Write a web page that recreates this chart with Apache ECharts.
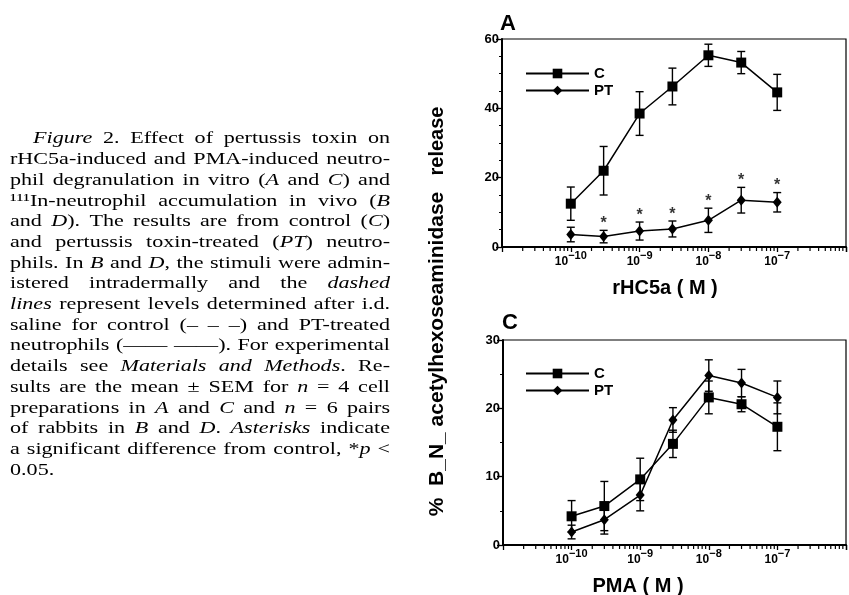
<!DOCTYPE html>
<html><head><meta charset="utf-8">
<script src="https://cdn.jsdelivr.net/npm/echarts@6/dist/echarts.min.js"></script>
<style>html,body{margin:0;padding:0;background:#fff}#c{width:849px;height:595px}</style>
</head><body><div id="c"></div>
<script>
// ---------- data ----------
const concentrations = [1e-10, 3e-10, 1e-9, 3e-9, 1e-8, 3e-8, 1e-7];
const xTickLabels = [1e-10, 1e-9, 1e-8, 1e-7];
const rhc5aControl    = [12.5, 22.0, 38.5, 46.3, 55.3, 53.2, 44.6];
const rhc5aControlSem = [4.8, 7.0, 6.3, 5.3, 3.2, 3.2, 5.2];
const rhc5aPT         = [3.6, 3.0, 4.6, 5.2, 7.7, 13.5, 12.9];
const rhc5aPTSem      = [2.1, 1.8, 2.6, 2.3, 3.5, 3.7, 2.8];
const rhc5aSignificant = [false, true, true, true, true, true, true];
const pmaControl    = [4.2, 5.7, 9.6, 14.8, 21.6, 20.6, 17.3];
const pmaControlSem = [2.3, 3.6, 3.1, 2.0, 2.4, 1.1, 3.5];
const pmaPT         = [1.9, 3.7, 7.3, 18.3, 24.8, 23.7, 21.6];
const pmaPTSem      = [1.0, 2.1, 2.3, 1.8, 2.3, 2.0, 2.4];
const seriesNames = ['C', 'PT'];
const panelLetters = ['A', 'C'];
const xAxisNames = ['rHC5a ( M )', 'PMA ( M )'];
const yAxisName = ['%  B_N_ acetylhexoseaminidase', 'release'];
const captionLines = [
  "_Figure_ 2. Effect of pertussis toxin on",
  "rHC5a-induced and PMA-induced neutro-",
  "phil degranulation in vitro (_A_ and _C_) and",
  "¹¹¹In-neutrophil accumulation in vivo (_B_",
  "and _D_). The results are from control (_C_)",
  "and pertussis toxin-treated (_PT_) neutro-",
  "phils. In _B_ and _D_, the stimuli were admin-",
  "istered intradermally and the _dashed_",
  "_lines_ represent levels determined after i.d.",
  "saline for control (– – –) and PT-treated",
  "neutrophils (—— ——). For experimental",
  "details see _Materials_ _and_ _Methods_. Re-",
  "sults are the mean ± SEM for _n_ = 4 cell",
  "preparations in _A_ and _C_ and _n_ = 6 pairs",
  "of rabbits in _B_ and _D_. _Asterisks_ indicate",
  "a significant difference from control, *_p_ <",
  "0.05."
];

// ---------- style ----------
const SANS = '"Liberation Sans", Arial, Helvetica, sans-serif';
const SERIF = '"Liberation Serif", "Times New Roman", serif';
const chart = echarts.init(document.getElementById('c'), null, {renderer: 'canvas', width: 849, height: 595});

const grids = [
  {left: 502, top: 39, width: 351, height: 208},
  {left: 503, top: 340, width: 351, height: 205}
];

const minorTickValues = [];
for (let d = -11; d <= -7; d++) for (let k = 2; k <= 9; k++) minorTickValues.push(k * Math.pow(10, d));

function xAxisCfg(gi) {
  return {
    type: 'log', logBase: 10, gridIndex: gi, min: 1e-11, max: 1e-6,
    axisLine: {show: true, onZero: false, lineStyle: {color: '#000', width: 2}},
    axisTick: {show: true, length: 5, lineStyle: {color: '#000', width: 1.3}},
    splitLine: {show: false},
    axisLabel: {
      margin: 3, showMinLabel: true, showMaxLabel: true,
      formatter: v => {
        const e = Math.round(Math.log10(v));
        const ok = xTickLabels.some(t => Math.round(Math.log10(t)) === e);
        return ok ? '{b|10}{s|−' + (-e) + '}' : '';
      },
      rich: {
        b: {fontSize: 12, fontWeight: 'bold', fontFamily: SANS, color: '#000', lineHeight: 18, verticalAlign: 'bottom'},
        s: {fontSize: 11, fontWeight: 'bold', fontFamily: SANS, color: '#000', lineHeight: 18, verticalAlign: 'top'}
      }
    }
  };
}
function yAxisCfg(gi, max, interval, minorSplit) {
  return {
    type: 'value', gridIndex: gi, min: 0, max: max, interval: interval,
    axisLine: {show: true, onZero: false, lineStyle: {color: '#000', width: 2}},
    axisTick: {show: true, length: 6, lineStyle: {color: '#000', width: 1.3}},
    minorTick: {show: true, splitNumber: minorSplit, length: 3, lineStyle: {color: '#000', width: 1}},
    splitLine: {show: false}, minorSplitLine: {show: false},
    axisLabel: {margin: 3, color: '#000', fontSize: 13, fontWeight: 'bold', fontFamily: SANS}
  };
}
function lineSeries(name, gi, means, symbol, size) {
  return {
    name, type: 'line', xAxisIndex: gi, yAxisIndex: gi,
    data: concentrations.map((x, i) => [x, means[i]]),
    symbol, symbolSize: size, showAllSymbol: true,
    itemStyle: {color: '#000'}, lineStyle: {color: '#000', width: 1.5}, z: 4, silent: true
  };
}
function errorSeries(gi, means, sems) {
  return {
    type: 'custom', xAxisIndex: gi, yAxisIndex: gi, silent: true, z: 3,
    data: concentrations.map((x, i) => [x, means[i] - sems[i], means[i] + sems[i]]),
    encode: {x: 0, y: [1, 2]},
    renderItem: (params, api) => {
      const lo = api.coord([api.value(0), api.value(1)]);
      const hi = api.coord([api.value(0), api.value(2)]);
      const w = 4, st = {stroke: '#000', lineWidth: 1.4};
      return {type: 'group', children: [
        {type: 'line', shape: {x1: lo[0], y1: lo[1], x2: hi[0], y2: hi[1]}, style: st},
        {type: 'line', shape: {x1: lo[0] - w, y1: lo[1], x2: lo[0] + w, y2: lo[1]}, style: st},
        {type: 'line', shape: {x1: hi[0] - w, y1: hi[1], x2: hi[0] + w, y2: hi[1]}, style: st}
      ]};
    }
  };
}
function minorTickSeries(gi) {
  return {
    type: 'custom', xAxisIndex: gi, yAxisIndex: gi, silent: true, z: 5,
    data: minorTickValues.map(v => [v, 0]), encode: {x: 0, y: 1},
    renderItem: (params, api) => {
      const p = api.coord([api.value(0), 0]);
      return {type: 'line', shape: {x1: p[0], y1: p[1], x2: p[0], y2: p[1] + 4}, style: {stroke: '#000', lineWidth: 1.2}};
    }
  };
}
const starSeries = {
  type: 'scatter', xAxisIndex: 0, yAxisIndex: 0, silent: true, z: 5,
  data: concentrations.map((x, i) => rhc5aSignificant[i] ? [x, rhc5aPT[i] + rhc5aPTSem[i]] : null).filter(Boolean),
  symbolSize: 1, itemStyle: {color: 'rgba(0,0,0,0)'},
  label: {show: true, position: 'top', distance: -2, formatter: '*', fontSize: 16, fontWeight: 'bold', fontFamily: SANS, color: '#000'}
};

// ---------- caption (justified, horizontally widened serif) ----------
function buildCaption() {
  const CAP_LEFT = 10, CAP_RIGHT = 390, CAP_INDENT = 33, CAP_TOP = 139, CAP_STEP = 20.7, SIZE = 17;
  const ctx = document.createElement('canvas').getContext('2d');
  const fontOf = (it, s) => (it ? 'italic ' : '') + s + 'px ' + SERIF;
  const parseWord = w => {
    const segs = []; const re = /_([^_]+)_/g; let last = 0, m;
    while ((m = re.exec(w))) { if (m.index > last) segs.push([w.slice(last, m.index), false]); segs.push([m[1], true]); last = re.lastIndex; }
    if (last < w.length) segs.push([w.slice(last), false]);
    return segs;
  };
  const segW = (t, it) => { ctx.font = fontOf(it, SIZE); return ctx.measureText(t).width; };
  const wordW = segs => segs.reduce((a, [t, it]) => a + segW(t, it), 0);
  const lines = captionLines.map(l => l.split(' ').map(parseWord));
  const sp0 = segW(' ', false);
  let sx = Infinity;
  lines.forEach((ws, i) => {
    if (i === lines.length - 1) return;
    const left = i === 0 ? CAP_INDENT : CAP_LEFT;
    const w = ws.reduce((a, s) => a + wordW(s), 0) + sp0 * (ws.length - 1) * 0.85;
    sx = Math.min(sx, (CAP_RIGHT - left) / w);
  });
  sx = Math.min(1.3, sx);
  const els = [];
  lines.forEach((ws, i) => {
    const left = i === 0 ? CAP_INDENT : CAP_LEFT;
    const widths = ws.map(s => wordW(s) * sx);
    const total = widths.reduce((a, b) => a + b, 0);
    const gap = (i === lines.length - 1 || ws.length < 2) ? sp0 * sx : (CAP_RIGHT - left - total) / (ws.length - 1);
    let x = left; const y = CAP_TOP + i * CAP_STEP;
    ws.forEach(segs => {
      segs.forEach(([t, it]) => {
        els.push({type: 'text', x: x, y: y, scaleX: sx, silent: true,
          style: {text: t, fontSize: SIZE, fontFamily: SERIF, fontStyle: it ? 'italic' : 'normal', fill: '#000', align: 'left', verticalAlign: 'middle'}});
        x += segW(t, it) * sx;
      });
      x += gap;
    });
  });
  return els;
}

const graphics = buildCaption().concat([
  {type: 'text', x: 500, y: 24, silent: true, style: {text: panelLetters[0], fontSize: 22, fontWeight: 'bold', fontFamily: SANS, fill: '#000', align: 'left', verticalAlign: 'middle'}},
  {type: 'text', x: 502, y: 323, silent: true, style: {text: panelLetters[1], fontSize: 22, fontWeight: 'bold', fontFamily: SANS, fill: '#000', align: 'left', verticalAlign: 'middle'}},
  {type: 'text', x: 665, y: 288, silent: true, style: {text: xAxisNames[0], fontSize: 20, fontWeight: 'bold', fontFamily: SANS, fill: '#000', align: 'center', verticalAlign: 'middle'}},
  {type: 'text', x: 638, y: 586, silent: true, style: {text: xAxisNames[1], fontSize: 20, fontWeight: 'bold', fontFamily: SANS, fill: '#000', align: 'center', verticalAlign: 'middle'}},
  {type: 'text', x: 437, y: 354, rotation: Math.PI / 2, silent: true, style: {text: yAxisName[0], fontSize: 21, fontWeight: 'bold', fontFamily: SANS, fill: '#000', align: 'center', verticalAlign: 'middle'}},
  {type: 'text', x: 437, y: 141, rotation: Math.PI / 2, silent: true, style: {text: yAxisName[1], fontSize: 20, fontWeight: 'bold', fontFamily: SANS, fill: '#000', align: 'center', verticalAlign: 'middle'}}
]);

const legendCfg = top => ({
  data: seriesNames, orient: 'vertical', left: 520, top: top, itemWidth: 63, itemHeight: 12, itemGap: 2,
  selectedMode: false, textStyle: {fontSize: 15, fontWeight: 'bold', fontFamily: SANS, color: '#000'}
});

chart.setOption({
  animation: false,
  backgroundColor: '#fff',
  grid: grids.map(g => Object.assign({show: true, borderColor: '#000', borderWidth: 1.2, backgroundColor: 'transparent'}, g)),
  xAxis: [xAxisCfg(0), xAxisCfg(1)],
  yAxis: [yAxisCfg(0, 60, 20, 4), yAxisCfg(1, 30, 10, 2)],
  legend: [legendCfg(61), legendCfg(361)],
  series: [
    errorSeries(0, rhc5aControl, rhc5aControlSem),
    errorSeries(0, rhc5aPT, rhc5aPTSem),
    lineSeries(seriesNames[0], 0, rhc5aControl, 'rect', 10),
    lineSeries(seriesNames[1], 0, rhc5aPT, 'diamond', [9, 11]),
    starSeries,
    minorTickSeries(0),
    errorSeries(1, pmaControl, pmaControlSem),
    errorSeries(1, pmaPT, pmaPTSem),
    lineSeries(seriesNames[0], 1, pmaControl, 'rect', 10),
    lineSeries(seriesNames[1], 1, pmaPT, 'diamond', [9, 11]),
    minorTickSeries(1)
  ],
  graphic: graphics
});
</script>
</body></html>
